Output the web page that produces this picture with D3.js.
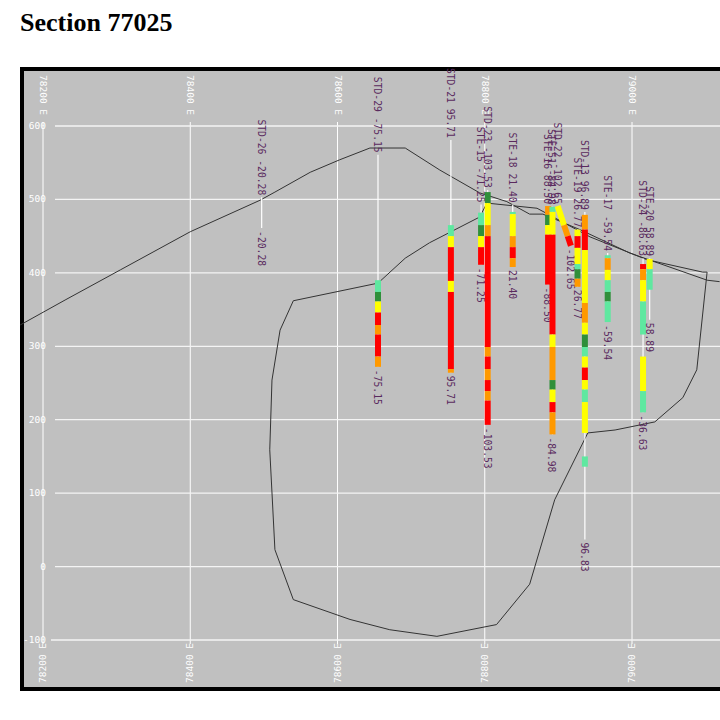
<!DOCTYPE html>
<html><head><meta charset="utf-8">
<script src="https://cdn.jsdelivr.net/npm/d3@7"></script>
<style>body{margin:0;background:#fff}</style></head>
<body><svg id="c" width="720" height="720"></svg>
<script>
const title = "Section 77025";
const eastTicks = [78200, 78400, 78600, 78800, 79000];
const elevTicks = [600, 500, 400, 300, 200, 100, 0, -100];
const surface = [[78169,329],[78230,363],[78305,404],[78400,456],[78495,499],[78515,510],[78563,537],[78603,554],[78644,570],[78692,570],[78739,540],[78793,509],[78830,497],[78861,480],[78879,480],[78929,459],[78997,427],[79102,390],[79119,388]];
const body = [[78540,362],[78655,386],[78692,420],[78725,441],[78793,476],[78803,495],[78871,488],[78943,449],[79020,418],[79096,401],[79102,401],[79088,268],[79069,230],[79031,197],[78977,186],[78940,182],[78895,91],[78861,-24],[78816,-79],[78735,-95],[78671,-86],[78617,-72],[78540,-45],[78515,23],[78508,159],[78511,254],[78522,322],[78540,362]];
const R="#ff0000",O="#ff9900",Y="#ffff00",LG="#5fe8a0",DG="#2f8f3a";
const holes = [
 {top:"STD-26 -20.28", end:"-20.28", e0:78497, e1:78497, z0:503, z1:461, iv:[]},
 {top:"STD-29 -75.15", end:"-75.15", e0:78655, e1:78655, z0:561, z1:272, iv:[[390,374,LG],[374,361,DG],[361,346,Y],[346,329,R],[329,316,O],[316,286,R],[286,272,O]]},
 {top:"STD-21 95.71", end:"95.71", e0:78754, e1:78754, z0:581, z1:264, iv:[[465,450,LG],[450,435,Y],[435,389,R],[389,374,Y],[374,269,R],[269,264,O]]},
 {top:"STE-15 -71.25", end:"-71.25", e0:78795, e1:78795, z0:493, z1:411, iv:[[482,465,LG],[465,450,DG],[450,435,Y],[435,411,R]]},
 {top:"STD-23 -103.53", end:"-103.53", e0:78804, e1:78804, z0:513, z1:193, iv:[[510,495,DG],[495,465,Y],[465,450,O],[450,299,R],[299,286,O],[286,269,R],[269,254,O],[254,239,R],[239,226,O],[226,193,R]]},
 {top:"STE-18 21.40", end:"21.40", e0:78838, e1:78838, z0:493, z1:408, iv:[[483,480,LG],[480,450,Y],[450,435,O],[435,420,R],[420,408,O]]},
 {top:"STE-16 88.50", end:"-88.50", e0:78886, e1:78886, z0:491, z1:384, iv:[[491,479,O],[479,465,DG],[465,452,Y],[452,384,R]]},
 {top:"STE-51 -84.98", end:"-84.98", e0:78892, e1:78892, z0:490, z1:180, iv:[[490,483,LG],[483,452,Y],[452,316,R],[316,299,Y],[299,254,O],[254,241,DG],[241,224,Y],[224,210,R],[210,180,O]]},
 {top:"STD-22 -102.65", end:"-102.65", e0:78899, e1:78917, z0:491, z1:437, iv:[[491,465,Y],[465,450,O],[450,437,R]]},
 {top:"STE-19 26.77", end:"26.77", e0:78926, e1:78926, z0:459, z1:381, iv:[[459,450,Y],[450,434,R],[434,412,Y],[412,405,LG],[405,392,DG],[392,381,O]]},
 {top:"STD-13 96.89", end:"96.83", e0:78936, e1:78936, z0:483, z1:37, iv:[[479,459,O],[459,431,R],[431,359,Y],[359,332,O],[332,316,Y],[316,299,DG],[299,286,LG],[286,271,Y],[271,254,R],[254,241,Y],[241,224,LG],[224,182,Y],[150,136,LG]]},
 {top:"STE-17 -59.54", end:"-59.54", e0:78967, e1:78967, z0:427, z1:333, iv:[[424,420,LG],[420,404,O],[404,390,Y],[390,374,LG],[374,361,DG],[361,333,LG]]},
 {top:"STD-24 -86.63", end:"-36.63", e0:79015, e1:79015, z0:420, z1:210, iv:[[412,405,R],[405,390,O],[390,361,Y],[361,316,LG],[286,239,Y],[239,210,LG]]},
 {top:"STE-20 58.89", end:"58.89", e0:79024, e1:79024, z0:420, z1:336, iv:[[419,405,Y],[405,377,LG]]}
];

const svg = d3.select("#c");
svg.append("text").attr("x",20).attr("y",31).text(title)
  .attr("font-family","Liberation Serif").attr("font-weight","bold").attr("font-size",26);
svg.append("rect").attr("x",22).attr("y",69).attr("width",720).attr("height",620)
  .attr("fill","#c0c0c0").attr("stroke","#000").attr("stroke-width",4);
const x = d3.scaleLinear().domain([78200,79000]).range([43,632]);
const y = d3.scaleLinear().domain([600,-100]).range([126,640]);
const g = svg.append("g");
g.selectAll(".vg").data(eastTicks).join("line").attr("x1",d=>x(d)).attr("x2",d=>x(d))
  .attr("y1",122).attr("y2",y(-100)+4).attr("stroke","#fff").attr("stroke-width",1);
g.selectAll(".hg").data(elevTicks).join("line").attr("x1",d=>d===-100?x(78200)+8:x(78200)+12).attr("x2",720)
  .attr("y1",d=>y(d)).attr("y2",d=>y(d)).attr("stroke","#f4f4f4").attr("stroke-width",1.3);
const lf = {"font-family":"DejaVu Sans Mono","font-size":9.5,"fill":"#fff"};
function st(sel,o){for(const k in o) sel.attr(k,o[k]); return sel;}
elevTicks.forEach(d=>{
  st(g.append("text").attr("x",x(78200)+3).attr("y",y(d)+3).attr("text-anchor","end").text(d),lf);
});
eastTicks.forEach(d=>{
  st(g.append("text").attr("transform",`translate(${x(d)-3},75) rotate(90)`).text(d+" E"),lf);
  st(g.append("text").attr("transform",`translate(${x(d)+3},683) rotate(-90)`).text(d+" E"),lf);
});
const line = d3.line().x(d=>x(d[0])).y(d=>y(d[1]));
g.append("path").attr("d",line(surface)).attr("fill","none").attr("stroke","#333").attr("stroke-width",1);
g.append("path").attr("d",line(body)).attr("fill","none").attr("stroke","#333").attr("stroke-width",1);
const tf = {"font-family":"DejaVu Sans Mono","font-size":9.7,"fill":"#5a2a5e"};
holes.forEach(h=>{
  const ex = z => h.e0 + (h.e1-h.e0)*(h.z0-z)/(h.z0-h.z1);
  g.append("line").attr("x1",x(h.e0)).attr("y1",y(h.z0)).attr("x2",x(h.e1)).attr("y2",y(h.z1))
    .attr("stroke","#fff").attr("stroke-width",1.2);
  h.iv.forEach(([a,b,c])=>{
    g.append("line").attr("x1",x(ex(a))).attr("y1",y(a)).attr("x2",x(ex(b))).attr("y2",y(b))
      .attr("stroke",c).attr("stroke-width",6);
  });
  st(g.append("text").attr("transform",`translate(${x(h.e0)-4},${y(h.z0)-2}) rotate(90)`)
    .attr("text-anchor","end").text(h.top),tf);
  st(g.append("text").attr("transform",`translate(${x(h.e1)-4},${y(h.z1)+3}) rotate(90)`)
    .text(h.end),tf);
});
</script></body></html>
